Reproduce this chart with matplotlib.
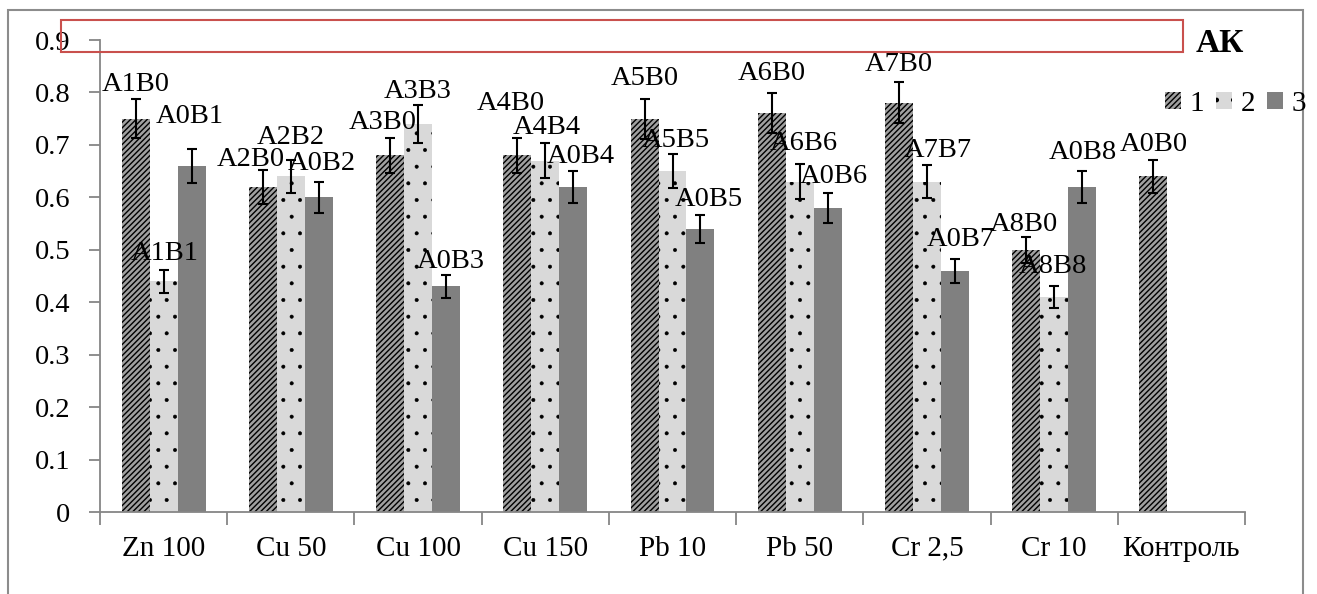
import numpy as np
import matplotlib.pyplot as plt
from matplotlib.patches import Rectangle, Patch

plt.rcParams['font.family'] = ['Liberation Serif', 'DejaVu Serif']
plt.rcParams['hatch.color'] = 'black'

categories = ['Zn 100', 'Cu 50', 'Cu 100', 'Cu 150', 'Pb 10', 'Pb 50',
              'Cr 2,5', 'Cr 10', 'Контроль']

s1 = [0.75, 0.62, 0.68, 0.68, 0.75, 0.76, 0.78, 0.50, 0.64]
s2 = [0.44, 0.64, 0.74, 0.67, 0.65, 0.63, 0.63, 0.41]
s3 = [0.66, 0.60, 0.43, 0.62, 0.54, 0.58, 0.46, 0.62]

err1 = [0.037, 0.032, 0.034, 0.034, 0.038, 0.038, 0.039, 0.025, 0.031]
err2 = [0.022, 0.032, 0.037, 0.034, 0.032, 0.033, 0.032, 0.021]
err3 = [0.033, 0.030, 0.022, 0.031, 0.027, 0.029, 0.023, 0.031]

lab1 = ['A1B0', 'A2B0', 'A3B0', 'A4B0', 'A5B0', 'A6B0', 'A7B0', 'A8B0', 'A0B0']
lab2 = ['A1B1', 'A2B2', 'A3B3', 'A4B4', 'A5B5', 'A6B6', 'A7B7', 'A8B8']
lab3 = ['A0B1', 'A0B2', 'A0B3', 'A0B4', 'A0B5', 'A0B6', 'A0B7', 'A0B8']

legend_names = ['1', '2', '3']

# label offsets from bar top (pixels), placed by hand like in the original
off1 = [(0, 34), (-12, 27), (-7, 33), (-7, 52), (0, 40), (0, 40), (0, 38), (-2, 25), (0, 32)]
off2 = [(1, 28), (0, 39), (0, 32), (2, 33), (3, 31), (4, 38), (11, 31), (-1, 30)]
off3 = [(-2, 49), (3, 34), (5, 25), (8, 30), (8, 29), (6, 31), (6, 31), (1, 34)]

W, H = 1317, 594
fig = plt.figure(figsize=(W / 100, H / 100), dpi=100)
ax = fig.add_axes([100 / W, 82 / H, 1145 / W, 472 / H])

x = np.arange(len(categories))
w = 0.22
ekw = dict(ecolor='black', elinewidth=1.5, capsize=3.6, capthick=1.5)

styles = [
    dict(color='#a0a0a0', hatch='//////'),
    dict(color='#d9d9d9', hatch='.'),
    dict(color='#808080', hatch=None),
]
hatch_lw = [1.0, 0.4, 1.0]

series = [(-w, s1, err1), (0, s2, err2), (w, s3, err3)]
for (shift, vals, err), st, hl in zip(series, styles, hatch_lw):
    plt.rcParams['hatch.linewidth'] = hl
    ax.bar(x[:len(vals)] + shift, vals, w, yerr=err, edgecolor='black',
           linewidth=0, error_kw=ekw, **st)

for shift, vals, labs, offs in [(-w, s1, lab1, off1), (0, s2, lab2, off2), (w, s3, lab3, off3)]:
    for i, (v, t, o) in enumerate(zip(vals, labs, offs)):
        ax.annotate(t, (x[i] + shift, v), xytext=o, textcoords='offset pixels',
                    ha='center', va='center', fontsize=20.5, zorder=10)

ax.set_xlim(-0.5, len(categories) - 0.5)
ax.set_ylim(0, 0.9)

yt = np.arange(0, 0.95, 0.1)
ax.set_yticks(yt, [f'{v:g}' for v in yt])
ax.set_xticks(np.arange(-0.5, len(categories), 1))
ax.set_xticklabels([])
ax.set_xticks(x, categories, minor=True)

gray = '#868686'
for s in ['top', 'right']:
    ax.spines[s].set_visible(False)
for s in ['left', 'bottom']:
    ax.spines[s].set_color(gray)
    ax.spines[s].set_linewidth(1.3)

ax.tick_params(axis='y', direction='out', length=8, width=1.3, color=gray,
               pad=13.5, labelsize=20.5)
ax.tick_params(axis='x', which='major', direction='out', length=9, width=1.3, color=gray)
ax.tick_params(axis='x', which='minor', length=0, pad=17, labelsize=21)

# outer chart border and the red frame
fig.add_artist(Rectangle((8 / W, -0.1), 1295 / W, (H - 10) / H + 0.1,
                         transform=fig.transFigure, fill=False,
                         edgecolor='#8c8c8c', lw=1.5))
fig.add_artist(Rectangle((61 / W, (H - 52) / H), 1122 / W, 32 / H,
                         transform=fig.transFigure, fill=False,
                         edgecolor='#c9504d', lw=1.5))
fig.text(1220 / W, (H - 43) / H, 'АК', ha='center', va='center',
         fontsize=24, fontweight='bold')

handles = []
for st, hl in zip(styles, hatch_lw):
    plt.rcParams['hatch.linewidth'] = hl
    handles.append(Patch(facecolor=st['color'], hatch=st['hatch'],
                         edgecolor='black', linewidth=0))
fig.legend(handles, legend_names, ncol=3, loc='center left',
           bbox_to_anchor=(1165 / W, (H - 104) / H), frameon=False, fontsize=21,
           handlelength=0.55, handleheight=0.55, handletextpad=0.3,
           columnspacing=0.4, borderpad=0, borderaxespad=0)

fig.savefig('out.png', dpi=100)
